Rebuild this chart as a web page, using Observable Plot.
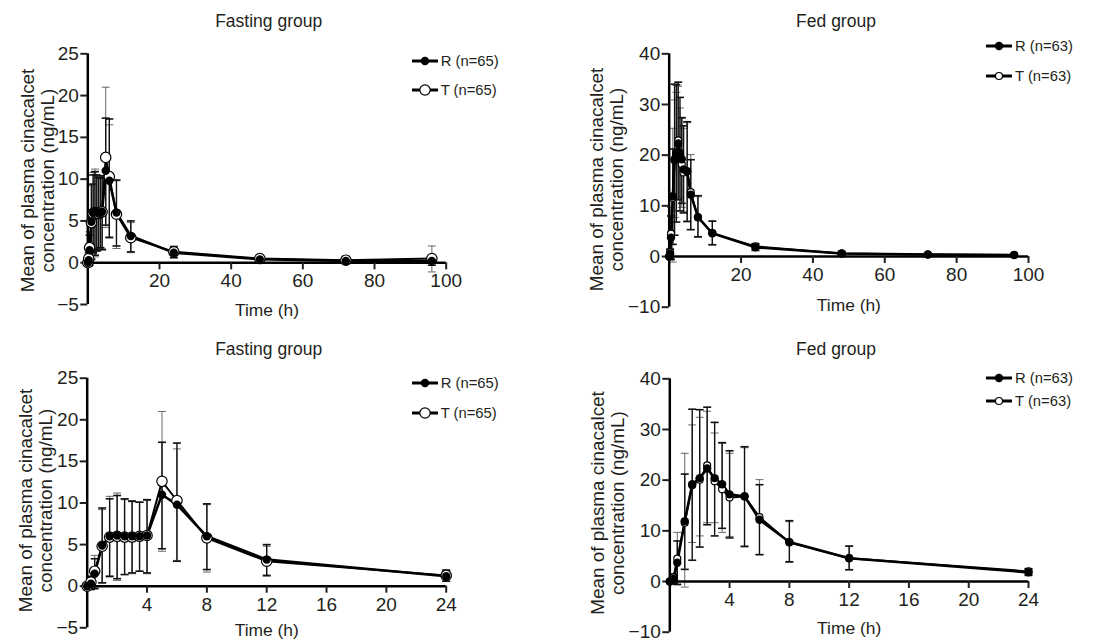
<!DOCTYPE html>
<html><head><meta charset="utf-8">
<script src="https://cdn.jsdelivr.net/npm/d3@7"></script>
<script src="https://cdn.jsdelivr.net/npm/@observablehq/plot@0.6"></script>
<style>
body{margin:0;background:#fff;width:1105px;height:639px;overflow:hidden;position:relative;font-family:"Liberation Sans",Arial,Helvetica,sans-serif;color:#231f20}
.panel{position:absolute}
.title{position:absolute;font-size:17.5px;transform:translate(-50%,-50%);white-space:nowrap}
.legsym{position:absolute}
.legtxt{position:absolute;font-size:14.8px;white-space:nowrap;transform:translateY(-50%)}
</style></head><body>
<script>
// ---- data ----
const times = [0, 0.25, 0.5, 1, 1.5, 2, 2.5, 3, 3.5, 4, 5, 6, 8, 12, 24, 48, 72, 96];

// Fasting group
const fastR   = [0, 0.3, 1.5, 4.9, 6.0, 6.1, 6.0, 6.0, 6.0, 6.1, 11.0, 9.8, 6.0, 3.2, 1.2, 0.4, 0.2, 0.2];
const fastRHi = [0, 1.2, 3.3, 9.4, 10.5, 10.9, 10.5, 10.2, 10.1, 10.4, 17.3, 17.2, 9.9, 5.0, 1.9, 0.8, 0.5, 0.7];
const fastRLo = [0, -0.4, -0.3, 0.4, 1.2, 0.9, 1.4, 1.6, 1.8, 1.6, 4.5, 3.0, 2.0, 1.3, 0.6, 0.1, 0.0, -0.3];
const fastT   = [0, 0.5, 1.8, 4.8, 5.9, 6.0, 5.9, 5.9, 6.0, 6.1, 12.6, 10.3, 5.8, 3.0, 1.3, 0.5, 0.3, 0.5];
const fastTHi = [0, 1.0, 3.7, 9.2, 10.8, 11.2, 10.4, 10.3, 10.1, 10.3, 21.0, 16.5, 9.8, 4.8, 2.0, 1.0, 0.8, 2.0];
const fastTLo = [0, 0.0, -0.1, 0.4, 1.1, 0.7, 1.4, 1.5, 1.8, 1.5, 4.2, 3.1, 1.7, 1.2, 0.6, 0.0, -0.2, -1.1];

// Fed group
const fedR   = [0, 0.5, 3.7, 11.9, 19.2, 20.4, 22.3, 20.4, 19.2, 17.2, 16.8, 12.2, 7.8, 4.6, 1.8, 0.6, 0.4, 0.3];
const fedRHi = [0, 1.4, 8.0, 21.2, 34.0, 33.9, 34.4, 31.4, 27.4, 25.8, 26.6, 19.1, 12.0, 7.0, 2.5, 1.0, 0.7, 0.6];
const fedRLo = [0, -0.4, -0.6, 2.4, 4.2, 6.8, 11.2, 9.0, 10.5, 8.6, 6.9, 5.3, 3.9, 2.3, 1.2, 0.2, 0.1, 0.0];
const fedT   = [0, 0.8, 4.5, 11.6, 19.0, 20.1, 22.9, 19.8, 18.2, 16.6, 16.8, 12.7, 7.7, 4.6, 2.0, 0.6, 0.4, 0.3];
const fedTHi = [0, 1.6, 9.7, 25.3, 30.9, 32.4, 33.6, 29.3, 27.3, 25.3, 26.4, 20.1, 11.8, 6.9, 2.6, 1.0, 0.7, 0.6];
const fedTLo = [0, 0.0, -0.5, -1.1, 7.7, 9.0, 11.6, 11.6, 9.7, 8.9, 7.0, 5.3, 3.8, 2.4, 1.3, 0.2, 0.1, 0.0];

const fastTicksY = [-5, 0, 5, 10, 15, 20, 25];
const fedTicksY = [-10, 0, 10, 20, 30, 40];
const longTicksX = [20, 40, 60, 80, 100];
const shortTicksX = [4, 8, 12, 16, 20, 24];

const titleFast = "Fasting group";
const titleFed = "Fed group";
const xLabel = "Time (h)";
const yLabel = "Mean of plasma cinacalcet\nconcentration (ng/mL)";
const legFast = ["R (n=65)", "T (n=65)"];
const legFed = ["R (n=63)", "T (n=63)"];

// ---- drawing ----
const fmt = d => d < 0 ? "\u2212" + Math.abs(d) : String(d);
const capSym = {draw(ctx) { ctx.moveTo(-4, 0); ctx.lineTo(4, 0); }};
const FONT = "'Liberation Sans', Arial, Helvetica, sans-serif";

function makePanel(c) {
  const n = times.filter(t => t <= c.xMax).length;
  const rows = (m, lo, hi) => times.slice(0, n).map((t, i) => ({t, v: m[i], lo: lo[i], hi: hi[i]}));
  const R = rows(c.r, c.rLo, c.rHi), T = rows(c.tm, c.tLo, c.tHi);
  const caps = d => d.flatMap(p => [{t: p.t, y: p.lo}, {t: p.t, y: p.hi}]);
  const svg = Plot.plot({
    width: c.width, height: c.height,
    marginLeft: c.mL, marginRight: c.mR, marginTop: c.mT, marginBottom: c.mB,
    x: {domain: [0, c.xMax]},
    y: {domain: c.yDomain, range: c.yRange},
    style: {fontFamily: FONT, fontSize: "19px", color: "#231f20", background: "transparent", overflow: "visible"},
    marks: [
      Plot.ruleX(T, {x: "t", y1: "lo", y2: "hi", stroke: "#6a6a6a", strokeWidth: 1}),
      Plot.dot(caps(T), {x: "t", y: "y", symbol: capSym, r: 4, fill: "none", stroke: "#6a6a6a", strokeWidth: 1}),
      Plot.ruleX(R, {x: "t", y1: "lo", y2: "hi", stroke: "#111", strokeWidth: 1.4}),
      Plot.dot(caps(R), {x: "t", y: "y", symbol: capSym, r: 4, fill: "none", stroke: "#111", strokeWidth: 1.6}),
      Plot.ruleY([{y: 0, x1: 0, x2: c.xMax}], {y: "y", x1: "x1", x2: "x2", stroke: "black", strokeWidth: 2.5}),
      Plot.ruleX([{x: 0, y1: c.yDomain[0], y2: c.yDomain[1]}], {x: "x", y1: "y1", y2: "y2", stroke: "black", strokeWidth: 2.5}),
      Plot.axisY({ticks: c.yTicks, tickSize: 7, tickPadding: 2, tickFormat: fmt, strokeWidth: 2, fontSize: 19, label: null}),
      Plot.axisX({ticks: c.xTicks, tickSize: 7, tickPadding: 4, tickFormat: fmt, strokeWidth: 2, fontSize: 19, label: null}),
      Plot.line(T, {x: "t", y: "v", stroke: "black", strokeWidth: 2}),
      Plot.line(R, {x: "t", y: "v", stroke: "black", strokeWidth: 2.5}),
      Plot.dot(T, {x: "t", y: "v", r: c.tR, fill: "white", stroke: "black", strokeWidth: 1.2}),
      Plot.dot(R, {x: "t", y: "v", r: 4.2, fill: "black"}),
      Plot.text([xLabel], {text: d => d, frameAnchor: "bottom", dy: c.xlDy, lineAnchor: "middle", fontSize: 17.4}),
      Plot.text([yLabel], {text: d => d, frameAnchor: "top-left", dx: c.ylDx, dy: c.ylDy, rotate: -90,
        textAnchor: "middle", lineAnchor: "middle", lineHeight: 1.06, fontSize: 18.9})
    ]
  });
  const div = document.createElement("div");
  div.className = "panel";
  div.style.left = c.left + "px"; div.style.top = c.top + "px";
  div.appendChild(svg);
  document.body.appendChild(div);

  const t = document.createElement("div");
  t.className = "title"; t.textContent = c.title;
  t.style.left = c.titleX + "px"; t.style.top = c.titleY + "px";
  document.body.appendChild(t);

  // legend
  c.leg.forEach((label, i) => {
    const y = c.legY[i];
    const ns = "http://www.w3.org/2000/svg";
    const s = document.createElementNS(ns, "svg");
    s.setAttribute("class", "legsym");
    s.setAttribute("width", 30); s.setAttribute("height", 16);
    s.style.left = (c.legX - 1) + "px"; s.style.top = (y - 8) + "px";
    const ln = document.createElementNS(ns, "line");
    ln.setAttribute("x1", 1); ln.setAttribute("x2", 27); ln.setAttribute("y1", 8); ln.setAttribute("y2", 8);
    ln.setAttribute("stroke", "black"); ln.setAttribute("stroke-width", 3);
    s.appendChild(ln);
    const cc = document.createElementNS(ns, "circle");
    cc.setAttribute("cx", 14); cc.setAttribute("cy", 8);
    if (i === 0) { cc.setAttribute("r", 4.2); cc.setAttribute("fill", "black"); }
    else { cc.setAttribute("r", c.tR); cc.setAttribute("fill", "white"); cc.setAttribute("stroke", "black"); cc.setAttribute("stroke-width", 1.2); }
    s.appendChild(cc);
    document.body.appendChild(s);
    const tx = document.createElement("div");
    tx.className = "legtxt"; tx.textContent = label;
    tx.style.left = (c.legX + 29) + "px"; tx.style.top = y + "px";
    document.body.appendChild(tx);
  });
}

makePanel({left: 0, top: 0, width: 552, height: 320, mL: 87.3, mR: 106.3, mT: 53.3, mB: 57.7,
  yRange: [304, 53.3], yDomain: [-5, 25], yTicks: fastTicksY, xMax: 100, xTicks: longTicksX, tR: 5.2,
  r: fastR, rLo: fastRLo, rHi: fastRHi, tm: fastT, tLo: fastTLo, tHi: fastTHi,
  xlDy: 47.7, ylDx: -50.3, ylDy: 126.7, title: titleFast, titleX: 268.7, titleY: 21,
  leg: legFast, legX: 411.7, legY: [61, 90]});

makePanel({left: 552, top: 0, width: 553, height: 320, mL: 116.7, mR: 77, mT: 53.3, mB: 64,
  yRange: [306.7, 53.3], yDomain: [-10, 40], yTicks: fedTicksY, xMax: 100, xTicks: longTicksX, tR: 3.5,
  r: fedR, rLo: fedRLo, rHi: fedRHi, tm: fedT, tLo: fedTLo, tHi: fedTHi,
  xlDy: 49, ylDx: -62.7, ylDy: 125.7, title: titleFed, titleX: 836, titleY: 21,
  leg: legFed, legX: 986, legY: [45.7, 76]});

makePanel({left: 0, top: 320, width: 552, height: 319, mL: 86.7, mR: 106.3, mT: 57.7, mB: 53.3,
  yRange: [307.3, 57.7], yDomain: [-5, 25], yTicks: fastTicksY, xMax: 24, xTicks: shortTicksX, tR: 5.2,
  r: fastR, rLo: fastRLo, rHi: fastRHi, tm: fastT, tLo: fastTLo, tHi: fastTHi,
  xlDy: 44.3, ylDx: -51.7, ylDy: 122.3, title: titleFast, titleX: 268.7, titleY: 349.3,
  leg: legFast, legX: 411.7, legY: [383.3, 413.3]});

makePanel({left: 552, top: 320, width: 553, height: 319, mL: 117.3, mR: 77, mT: 58.3, mB: 58,
  yRange: [311.7, 58.3], yDomain: [-10, 40], yTicks: fedTicksY, xMax: 24, xTicks: shortTicksX, tR: 3.5,
  r: fedR, rLo: fedRLo, rHi: fedRHi, tm: fedT, tLo: fedTLo, tHi: fedTHi,
  xlDy: 47, ylDx: -62.3, ylDy: 124.2, title: titleFed, titleX: 836, titleY: 349.3,
  leg: legFed, legX: 986, legY: [378.3, 401]});
</script>
</body></html>
